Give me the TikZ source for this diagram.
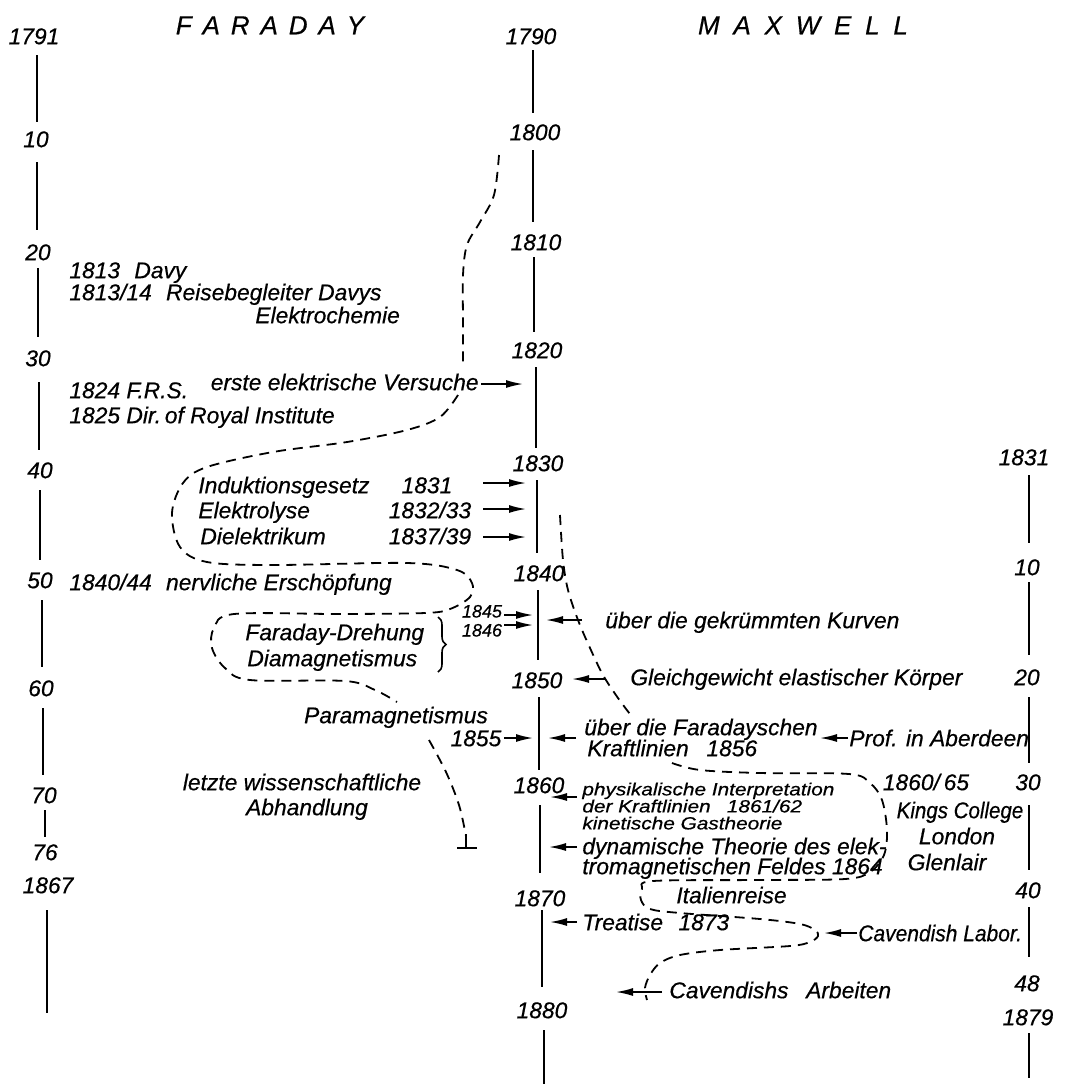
\documentclass[tikz,border=0pt]{standalone}
\usepackage{fontspec}
\setmainfont{Liberation Sans}[ItalicFeatures={FakeBold=0.5}]
\usetikzlibrary{arrows.meta,decorations.pathreplacing}
\begin{document}
\begin{tikzpicture}[x=0.5pt,y=-0.5pt,
  lbl/.style={font=\fontsize{11.4}{13}\selectfont\itshape, inner sep=0pt, text height=8.2pt, text depth=0pt},
  ttl/.style={font=\fontsize{13}{14}\selectfont\itshape, inner sep=0pt, text height=9.3pt, text depth=0pt},
  small/.style={font=\fontsize{10.4}{12}\selectfont\itshape, inner sep=0pt, text height=7.5pt, text depth=0pt, yscale=0.85},
  tiny/.style={font=\fontsize{9}{10}\selectfont\itshape, inner sep=0pt, text height=6.5pt, text depth=0pt},
  tl/.style={line width=1pt},
  arr/.style={-{Latex[length=8.5pt,width=4pt]}, line width=0.8pt},
  dsh/.style={dash pattern=on 5pt off 3.5pt, line width=0.9pt},
]
\useasboundingbox (0,0) rectangle (1070,1084);

% titles
\node[ttl] (faraday) at (270,25) {F\kern0.42em A\kern0.42em R\kern0.42em A\kern0.42em D\kern0.42em A\kern0.42em Y};
\node[ttl] (maxwell) at (803,25) {M\kern0.53em A\kern0.53em X\kern0.53em W\kern0.53em E\kern0.53em L\kern0.53em L};

% left timeline (Faraday's age)
\foreach \t/\x/\y/\n in {1791/34/36/la, 10/36/139/lb, 20/38/252/lc, 30/38/358/ld, 40/40/470/le, 50/40/580/lf, 60/41/688/lg, 70/44/795/lh, 76/45/852/li, 1867/48/885/lj}
  \node[lbl] (\n) at (\x,\y) {\t};
\foreach \x/\a/\b in {37/55/122, 37/162/230, 38/268/337, 39/382/450, 40/490/560, 42/600/667, 43/708/775, 45/810/837, 47/910/1013}
  \draw[tl] (\x,\a) -- (\x,\b);

% middle timeline
\foreach \t/\x/\y/\n in {1790/531/36/ma, 1800/535/132/mb, 1810/536/242/mc, 1820/537/350/md, 1830/538/463/me, 1840/539/573/mf, 1850/537/680/mg, 1860/539/785/mh, 1870/540/898/mi, 1880/542/1010/mj}
  \node[lbl] (\n) at (\x,\y) {\t};
\foreach \x/\a/\b in {533/50/113, 533/150/222, 534/257/332, 536/367/448, 537/480/553, 538/590/660, 539/697/770, 540/805/873, 542/910/987, 544/1030/1084}
  \draw[tl] (\x,\a) -- (\x,\b);

% right timeline (Maxwell's age)
\foreach \t/\x/\y/\n in {1831/1024/457/ra, 10/1027/567/rb, 20/1027/677/rc, 30/1028/782/rd, 40/1028/890/re, 48/1027/983/rf, 1879/1028/1017/rg}
  \node[lbl] (\n) at (\x,\y) {\t};
\foreach \a/\b in {475/543, 582/655, 697/763, 805/870, 907/957, 1033/1078}
  \draw[tl] (1029,\a) -- (1029,\b);

% Faraday texts
\node[lbl,anchor=west] (davy) at (69,270) {1813\hspace{0.35em} Davy};
\node[lbl,anchor=west] (reise) at (69,292) {1813/14\hspace{0.35em} Reisebegleiter Davys};
\node[lbl,anchor=west] (echem) at (255,315) {Elektrochemie};
\node[lbl,anchor=east] (versuche) at (479,382) {erste elektrische Versuche};
\node[lbl,anchor=west] (frs) at (69,390) {1824 F.R.S.};
\node[lbl,anchor=west] (dir) at (69,415) {1825 Dir.\,of Royal Institute};
\node[lbl,anchor=west] (induk) at (198,485) {Induktionsgesetz};
\node[lbl] (y1831) at (427,485) {1831};
\node[lbl,anchor=west] (elyse) at (198,510) {Elektrolyse};
\node[lbl] (y1832) at (430,510) {1832/33};
\node[lbl,anchor=west] (diel) at (200,536) {Dielektrikum};
\node[lbl] (y1837) at (430,536) {1837/39};
\node[lbl,anchor=west] (nerv) at (69,582) {1840/44\hspace{0.35em} nervliche Erschöpfung};
\node[tiny] (y1845) at (482,611) {1845};
\node[tiny] (y1846) at (482,630) {1846};
\node[lbl,anchor=west] (fdreh) at (245,632) {Faraday-Drehung};
\node[lbl,anchor=west] (diam) at (247,658) {Diamagnetismus};
\node[lbl] (para) at (396,715) {Paramagnetismus};
\node[lbl] (y1855) at (476,738) {1855};
\node[lbl] (letzte) at (302,782) {letzte wissenschaftliche};
\node[lbl] (abh) at (307,807) {Abhandlung};

% Maxwell texts
\node[lbl,anchor=west] (kurven) at (605,620) {über die gekrümmten Kurven};
\node[lbl,anchor=west] (gleich) at (630,677) {Gleichgewicht elastischer Körper};
\node[lbl,anchor=west] (farad) at (584,727) {über die Faradayschen};
\node[lbl,anchor=west] (kraft) at (587,748) {Kraftlinien\hspace{0.5em} 1856};
\node[lbl,anchor=west] (prof) at (849,738) {Prof. in Aberdeen};
\node[small,anchor=west] (phys) at (582,789) {physikalische Interpretation};
\node[small,anchor=west] (derkr) at (582,806) {der Kraftlinien\hspace{0.5em} 1861/62};
\node[small,anchor=west] (kin) at (582,823) {kinetische Gastheorie};
\node[lbl,anchor=west] (dyn) at (582,846) {dynamische Theorie des elek-};
\node[lbl,anchor=west] (trom) at (582,866) {tromagnetischen Feldes 1864};
\node[lbl] (y1860) at (926,782) {1860/\,65};
\node[lbl,xscale=0.9] (kings) at (960,810) {Kings College};
\node[lbl] (london) at (957,836) {London};
\node[lbl] (glen) at (947,862) {Glenlair};
\node[lbl,anchor=west] (ital) at (676,895) {Italienreise};
\node[lbl,anchor=west] (treat) at (582,922) {Treatise\hspace{0.4em} 1873};
\node[lbl,anchor=west,xscale=0.92] (cavl) at (858,933) {Cavendish Labor.};
\node[lbl,anchor=west] (cava) at (669,990) {Cavendishs\hspace{0.5em} Arbeiten};

% brace
\draw[line width=0.8pt,decorate,decoration={brace,amplitude=4pt}] (438,617) -- (438,672);

% arrows
\draw[arr] (481,384) -- (523,384);
\draw[arr] (483,483) -- (526,483);
\draw[arr] (483,509) -- (526,509);
\draw[arr] (483,537) -- (526,537);
\draw[arr] (504,615) -- (533,615);
\draw[arr] (504,625) -- (533,625);
\draw[arr] (582,620) -- (546,620);
\draw[arr] (605,679) -- (572,679);
\draw[arr] (504,738) -- (533,738);
\draw[arr] (576,738) -- (548,738);
\draw[arr] (848,738) -- (820,738);
\draw[arr] (577,797) -- (550,797);
\draw[arr] (577,847) -- (549,847);
\draw[arr] (577,922) -- (550,922);
\draw[arr] (857,933) -- (824,933);
\draw[arr] (662,992) -- (616,992);

% Faraday's path
\draw[dsh] plot[smooth,tension=0.55] coordinates {(499,155) (494,195) (480,222) (467,245) (463,275) (463,320) (463,364)};
\draw[dsh] plot[smooth,tension=0.55] coordinates {(458,395) (440,417) (407,430) (347,442) (273,452) (207,467) (183,483) (172,513) (180,547) (207,562) (273,565) (407,563) (457,570) (472,583) (470,597) (450,609) (425,613) (340,614) (234,614) (214,628) (212,648) (225,668) (250,680) (345,681) (375,690) (397,702)};
\draw[dsh] plot[smooth,tension=0.55] coordinates {(429,740) (446,772) (459,805) (466,836)};
\draw[line width=0.8pt] (466,834) -- (466,848);
\draw[line width=0.9pt] (457,848) -- (477,848);

% Maxwell's path
\draw[dsh] plot[smooth,tension=0.55] coordinates {(560,515) (563,560) (568,590) (578,620) (590,648) (603,675) (618,698) (633,718)};
\draw[dsh] plot[smooth,tension=0.55] coordinates {(672,763) (700,770) (760,773) (849,774) (870,783) (882,800) (887,830) (884,855) (870,872) (845,879) (760,880) (653,881) (642,889) (641,900) (650,909) (680,913) (760,919) (800,924) (815,930) (818,936) (810,942) (790,946) (720,950) (680,955) (660,963) (650,975) (645,988) (647,1000)};
\end{tikzpicture}
\end{document}
